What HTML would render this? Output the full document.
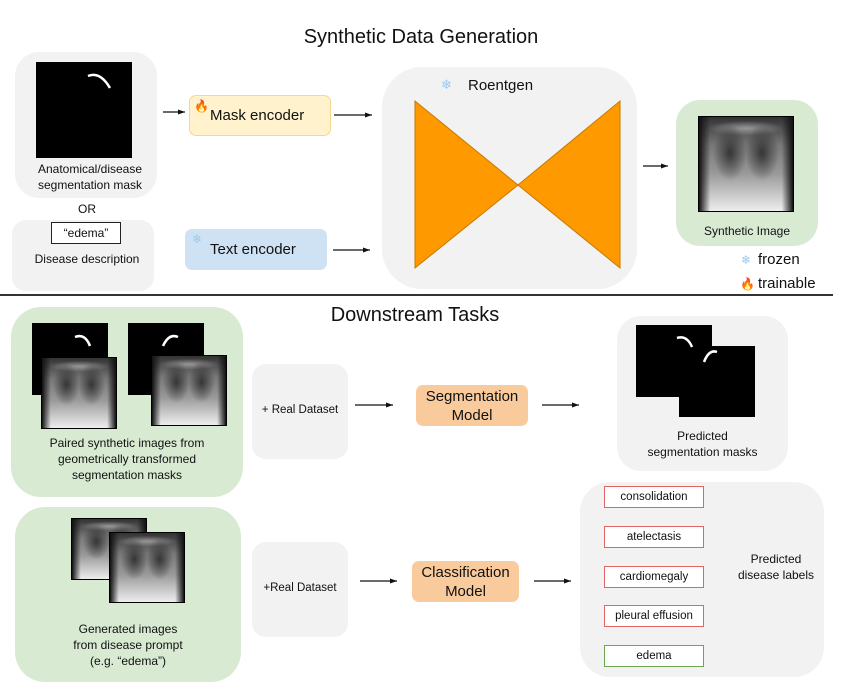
<!DOCTYPE html>
<html><head><meta charset="utf-8"><style>
*{margin:0;padding:0;box-sizing:border-box}
body{width:851px;height:693px;background:#fff;position:relative;overflow:hidden;font-family:"Liberation Sans","DejaVu Sans",sans-serif;color:#111}
.a{position:absolute}
.box{position:absolute;background:#f2f2f2;border-radius:24px}
.g{background:#d9ead3}
.t{position:absolute;text-align:center;white-space:nowrap;font-size:12px;line-height:16px}
.blk{position:absolute;background:#000}
.x{position:absolute;background:
radial-gradient(ellipse 18% 30% at 33% 38%,rgba(40,40,40,.85),rgba(40,40,40,0) 100%),
radial-gradient(ellipse 18% 30% at 67% 38%,rgba(40,40,40,.85),rgba(40,40,40,0) 100%),
radial-gradient(ellipse 40% 8% at 50% 12%,rgba(200,200,200,.6),rgba(200,200,200,0) 100%),
linear-gradient(to right,#111 0%,rgba(0,0,0,0) 12%,rgba(0,0,0,0) 88%,#111 100%),
linear-gradient(#333 0%,#777 30%,#999 60%,#eee 100%);border:1px solid #000}
.lab{position:absolute;left:604px;width:100px;height:22px;border:1px solid #e06666;background:#fff;font-size:11.5px;text-align:center;line-height:20px}
</style></head><body>
<div class="t" style="left:221px;top:25px;width:400px;font-size:20px;line-height:24px">Synthetic Data Generation</div>

<div class="box" style="left:15px;top:52px;width:142px;height:146px"></div>
<div class="blk" style="left:36px;top:62px;width:96px;height:96px"></div>
<svg class="a" style="left:36px;top:62px" width="96" height="96"><path d="M52 14 Q64 9 74 26" fill="none" stroke="#fff" stroke-width="2.5"/></svg>
<div class="t" style="left:15px;top:161px;width:150px">Anatomical/disease<br>segmentation mask</div>
<div class="t" style="left:67px;top:201px;width:40px">OR</div>

<div class="box" style="left:12px;top:220px;width:142px;height:71px;border-radius:14px"></div>
<div class="a" style="left:51px;top:222px;width:70px;height:22px;border:1px solid #222;background:#fff;font-size:12px;text-align:center;line-height:20px">“edema”</div>
<div class="t" style="left:12px;top:251px;width:150px">Disease description</div>

<div class="a" style="left:189px;top:95px;width:142px;height:41px;background:#fff2cc;border:1px solid #f5d98a;border-radius:7px;font-size:15px;line-height:40px;padding-left:20px">Mask encoder</div>
<div class="a" style="left:194px;top:99px;font-size:12px">🔥</div>
<div class="a" style="left:185px;top:229px;width:142px;height:41px;background:#cfe2f3;border-radius:7px;font-size:15px;line-height:41px;padding-left:25px">Text encoder</div>
<div class="a" style="left:192px;top:232px;font-size:12px;color:#9cc9ee">❄</div>

<div class="box" style="left:382px;top:67px;width:255px;height:222px;border-radius:40px"></div>
<div class="a" style="left:441px;top:77px;font-size:13px;color:#9cc9ee">❄</div>
<div class="a" style="left:468px;top:77px;font-size:15px">Roentgen</div>
<svg class="a" style="left:0;top:0" width="851" height="693">
<defs><marker id="ar" markerUnits="userSpaceOnUse" markerWidth="7" markerHeight="5" refX="7" refY="2.5" orient="auto"><path d="M0 0L7 2.5L0 5Z" fill="#111"/></marker></defs>
<path d="M415 101L415 268L518 185Z M620 101L620 268L518 185Z" fill="#ff9900" stroke="#c77800" stroke-width="1"/>
<g stroke="#111" stroke-width="1.2" marker-end="url(#ar)">
<line x1="163" y1="112" x2="185" y2="112"/>
<line x1="334" y1="115" x2="372" y2="115"/>
<line x1="333" y1="250" x2="370" y2="250"/>
<line x1="643" y1="166" x2="668" y2="166"/>
<line x1="355" y1="405" x2="393" y2="405"/>
<line x1="542" y1="405" x2="579" y2="405"/>
<line x1="360" y1="581" x2="397" y2="581"/>
<line x1="534" y1="581" x2="571" y2="581"/>
</g>
<line x1="0" y1="295" x2="833" y2="295" stroke="#333" stroke-width="2"/>
</svg>

<div class="box g" style="left:676px;top:100px;width:142px;height:146px"></div>
<div class="x" style="left:698px;top:116px;width:96px;height:96px"></div>
<div class="t" style="left:676px;top:223px;width:142px">Synthetic Image</div>
<div class="a" style="left:741px;top:253px;font-size:12px;color:#9cc9ee">❄</div>
<div class="a" style="left:758px;top:251px;font-size:15px">frozen</div>
<div class="a" style="left:740px;top:277px;font-size:12px">🔥</div>
<div class="a" style="left:758px;top:275px;font-size:15px">trainable</div>

<div class="t" style="left:215px;top:303px;width:400px;font-size:20px;line-height:24px">Downstream Tasks</div>

<div class="box g" style="left:11px;top:307px;width:232px;height:190px;border-radius:30px"></div>
<div class="blk" style="left:32px;top:323px;width:76px;height:72px"></div>
<div class="blk" style="left:128px;top:323px;width:76px;height:72px"></div>
<svg class="a" style="left:32px;top:323px" width="180" height="40"><path d="M43 14 Q53 10 58 23" fill="none" stroke="#fff" stroke-width="2.5"/><path d="M146 14 Q137 10 131 23" fill="none" stroke="#fff" stroke-width="2.5"/></svg>
<div class="x" style="left:41px;top:357px;width:76px;height:72px"></div>
<div class="x" style="left:151px;top:355px;width:76px;height:71px"></div>
<div class="t" style="left:11px;top:435px;width:232px">Paired synthetic images from<br>geometrically transformed<br>segmentation masks</div>

<div class="box" style="left:252px;top:364px;width:96px;height:95px;border-radius:14px"></div>
<div class="t" style="left:252px;top:402px;width:96px;font-size:11.5px">+ Real Dataset</div>
<div class="a" style="left:416px;top:385px;width:112px;height:41px;background:#f9cb9c;border-radius:7px;font-size:15px;line-height:19px;text-align:center;padding-top:2px">Segmentation<br>Model</div>

<div class="box" style="left:617px;top:316px;width:171px;height:155px"></div>
<div class="blk" style="left:636px;top:325px;width:76px;height:72px"></div>
<div class="blk" style="left:679px;top:346px;width:76px;height:71px"></div>
<svg class="a" style="left:636px;top:325px" width="120" height="70"><path d="M41 13 Q51 10 56 22" fill="none" stroke="#fff" stroke-width="2.5"/><path d="M81 27 Q73 24 68 37" fill="none" stroke="#fff" stroke-width="2.5"/></svg>
<div class="t" style="left:617px;top:428px;width:171px">Predicted<br>segmentation masks</div>

<div class="box g" style="left:15px;top:507px;width:226px;height:175px;border-radius:30px"></div>
<div class="x" style="left:71px;top:518px;width:76px;height:62px"></div>
<div class="x" style="left:109px;top:532px;width:76px;height:71px"></div>
<div class="t" style="left:15px;top:621px;width:226px">Generated images<br>from disease prompt<br>(e.g. “edema”)</div>

<div class="box" style="left:252px;top:542px;width:96px;height:95px;border-radius:14px"></div>
<div class="t" style="left:252px;top:580px;width:96px;font-size:11.5px">+Real Dataset</div>
<div class="a" style="left:412px;top:561px;width:107px;height:41px;background:#f9cb9c;border-radius:7px;font-size:15px;line-height:19px;text-align:center;padding-top:2px">Classification<br>Model</div>

<div class="box" style="left:580px;top:482px;width:244px;height:195px;border-radius:30px"></div>
<div class="lab" style="top:486px">consolidation</div>
<div class="lab" style="top:526px">atelectasis</div>
<div class="lab" style="top:566px">cardiomegaly</div>
<div class="lab" style="top:605px">pleural effusion</div>
<div class="lab" style="top:645px;border-color:#6aa84f">edema</div>
<div class="t" style="left:716px;top:551px;width:120px">Predicted<br>disease labels</div>
</body></html>
